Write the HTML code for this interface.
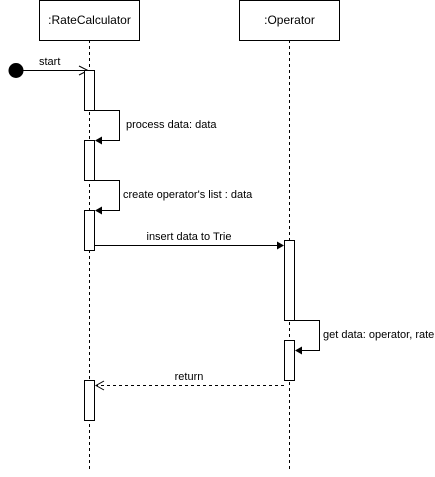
<!DOCTYPE html>
<html><head><style>html,body{margin:0;padding:0;background:#fff}</style></head><body>
<svg width="435" height="472" viewBox="0 0 435 472" xmlns="http://www.w3.org/2000/svg" font-family="Liberation Sans, Arial, sans-serif" font-size="11">
<rect x="0" y="0" width="435" height="472" fill="#fff"/>
<g stroke="#000" fill="none">
<line x1="89.5" y1="40" x2="89.5" y2="472" stroke-dasharray="3,3"/>
<line x1="289.5" y1="40" x2="289.5" y2="472" stroke-dasharray="3,3"/>
<rect x="39.5" y="0.5" width="100" height="40" fill="#fff"/>
<rect x="239.5" y="0.5" width="100" height="40" fill="#fff"/>
<line x1="16" y1="70.5" x2="84" y2="70.5"/>
<polyline points="79,66 88,70.5 79,75"/>
<rect x="84.5" y="70.5" width="10" height="40" fill="#fff"/>
<rect x="84.5" y="140.5" width="10" height="40" fill="#fff"/>
<rect x="84.5" y="210.5" width="10" height="40" fill="#fff"/>
<rect x="84.5" y="380.5" width="10" height="40" fill="#fff"/>
<polyline points="94.5,110.5 119.5,110.5 119.5,140.5 100,140.5"/>
<polyline points="94.5,180.5 119.5,180.5 119.5,210.5 100,210.5"/>
<line x1="94.5" y1="245.5" x2="278" y2="245.5"/>
<rect x="284.5" y="240.5" width="10" height="80" fill="#fff"/>
<rect x="284.5" y="340.5" width="10" height="40" fill="#fff"/>
<polyline points="294.5,320.5 319.5,320.5 319.5,350.5 300,350.5"/>
<line x1="284" y1="385.5" x2="97" y2="385.5" stroke-dasharray="3,3"/>
<polyline points="104,381 96,385.5 104,390"/>
</g>
<g fill="#000">
<circle cx="16" cy="70.5" r="7.5"/>
<polygon points="95,140.5 102,136.5 102,144.5"/>
<polygon points="95,210.5 102,206.5 102,214.5"/>
<polygon points="284,245.5 277,241.5 277,249.5"/>
<polygon points="295,350.5 302,346.5 302,354.5"/>
</g>
<g fill="#000">
<text x="89.5" y="24" text-anchor="middle" font-size="12">:RateCalculator</text>
<text x="289.5" y="24" text-anchor="middle" font-size="12">:Operator</text>
<text x="39" y="65">start</text>
<text x="126" y="128">process data: data</text>
<text x="123" y="198">create operator's list : data</text>
<text x="189" y="240" text-anchor="middle">insert data to Trie</text>
<text x="323" y="338">get data: operator, rate</text>
<text x="189" y="380" text-anchor="middle">return</text>
</g>
</svg>
</body></html>
